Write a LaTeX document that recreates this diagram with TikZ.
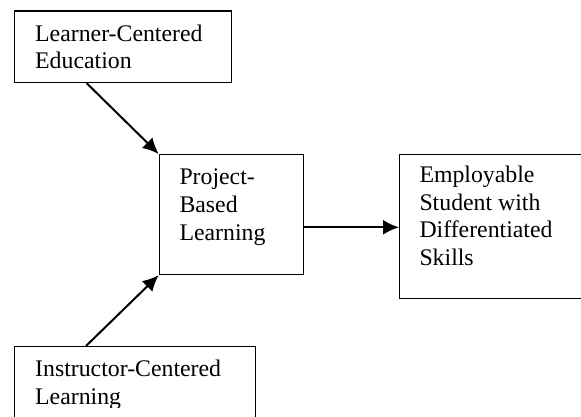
\documentclass[tikz,border=0pt]{standalone}
\usepackage{fontspec}
\setmainfont{Liberation Serif}
\usetikzlibrary{arrows.meta}
\begin{document}
\begin{tikzpicture}[x=1pt,y=-1pt,
  box/.style={draw,line width=1.2pt,anchor=north west,inner sep=0pt},
  txt/.style={anchor=north west,inner sep=0pt,align=left,font=\fontsize{23.8}{27.7}\selectfont,execute at begin node=\strut},
  arr/.style={line width=2pt,-{Latex[length=16pt,width=15pt]}}]
  \useasboundingbox (0,0) rectangle (581,417);
  \clip (0,0) rectangle (581,417);
  \node[box,minimum width=217,minimum height=71.5](lce) at (14,10.5){};
  \node[box,minimum width=144,minimum height=120](pbl) at (158.7,154){};
  \node[box,minimum width=200,minimum height=144](emp) at (399,154){};
  \node[box,minimum width=241,minimum height=90](icl) at (14,346){};
  \node[txt](lcetext) at ([shift={(21,13.9)}]lce.north west){Learner-Centered\\Education};
  \node[txt](pbltext) at ([shift={(20.6,14.9)}]pbl.north west){Project-\\Based\\Learning};
  \node[txt](emptext) at ([shift={(20.3,11.6)}]emp.north west){Employable\\Student with\\Differentiated\\Skills};
  \begin{scope}
    \clip (0,0) rectangle (581,407);
    \node[txt](icltext) at ([shift={(21,13.9)}]icl.north west){Instructor-Centered\\Learning};
  \end{scope}
  \draw[arr]([xshift=72.7pt]lce.south west) -- (pbl.north west);
  \draw[arr]([xshift=72pt]icl.north west) -- (pbl.south west);
  \draw[arr]([yshift=-12.7pt]pbl.east) -- ([yshift=-12.7pt]pbl.east -| emp.west);
\end{tikzpicture}
\end{document}
